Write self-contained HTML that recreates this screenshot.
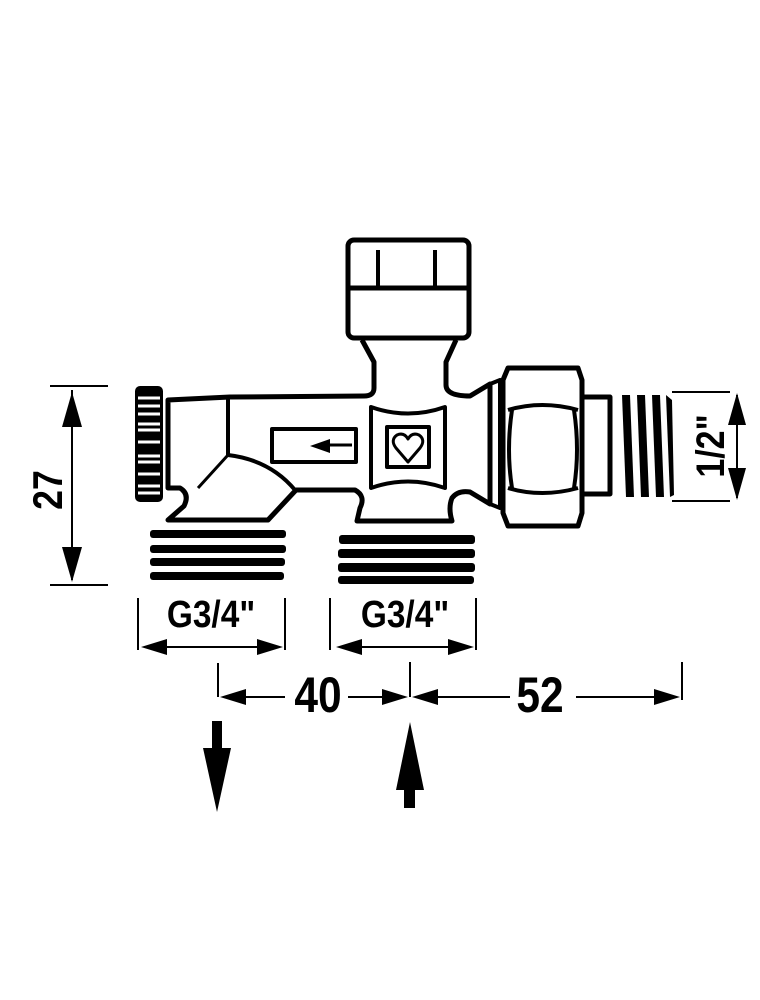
<!DOCTYPE html>
<html><head><meta charset="utf-8"><style>
html,body{margin:0;padding:0;background:#fff;width:760px;height:1000px;overflow:hidden}
svg{display:block}
text{font-family:"Liberation Sans",Arial,sans-serif;font-weight:bold;fill:#000}
</style></head><body>
<svg width="760" height="1000" viewBox="0 0 760 1000" xmlns="http://www.w3.org/2000/svg">
<g fill="none" stroke="#000" stroke-width="5" stroke-linejoin="round">
<rect x="348" y="240" width="121" height="98" rx="6"/>
<line x1="349" y1="288" x2="468" y2="288"/>
<line x1="378" y1="250" x2="378" y2="287" stroke-width="4"/>
<line x1="435" y1="250" x2="435" y2="287" stroke-width="4"/>
<path d="M362,340 L374,362 L374,388 Q374,396 364,396 L230,397 L168,400 L168,488 L180,488 Q190,494 184,506 L168,520 L268,520 L296,490 L355,490 Q366,496 360,508 L357,521 L452,521 Q448,508 452,498 Q458,490 470,492 L490,504 L490,384 L470,396 Q446,396 446,385 L446,362 L456,340"/>
<line x1="228" y1="398" x2="228" y2="455" stroke-width="4"/>
<path d="M228,455 Q270,460 295,490" stroke-width="4"/>
<line x1="228" y1="455" x2="198" y2="488" stroke-width="3"/>
<path d="M371,407 Q408,420 445,407 L445,488 Q408,475 371,488 Z" stroke-width="4"/>
<rect x="387" y="427" width="42" height="40" stroke-width="4"/>
<path d="M408,462 L396,448 Q390,440 397,435 Q404,432 408,439 Q412,432 419,435 Q426,440 420,448 Z" stroke-width="3"/>
<rect x="272" y="429" width="84" height="33" stroke-width="4"/>
<line x1="325" y1="445" x2="352" y2="445" stroke-width="3"/>
<path d="M490,384 L500,380 L500,508 L490,504" stroke-width="4"/>
<path d="M508,368 L578,368 L582,380 L582,513 L578,526 L508,526 L503,513 L503,380 Z"/>
<path d="M508,410 Q542,400 578,410 M508,488 Q542,498 578,488" stroke-width="4"/>
<path d="M512,410 Q506,450 512,488 M574,410 Q580,450 574,488" stroke-width="4"/>
<rect x="582" y="397" width="28" height="97" stroke-width="5"/>
</g>
<polygon points="310,446 330,439 330,453" fill="#000"/>
<rect x="135" y="386" width="28" height="116" rx="5" fill="#000"/>
<g stroke="#fff" stroke-width="3">
<line x1="138" y1="398" x2="160" y2="398"/><line x1="138" y1="406" x2="160" y2="406"/>
<line x1="138" y1="414" x2="160" y2="414"/><line x1="138" y1="424" x2="160" y2="424"/>
<line x1="138" y1="430" x2="160" y2="430"/><line x1="138" y1="442" x2="160" y2="442"/>
<line x1="138" y1="456" x2="160" y2="456"/><line x1="138" y1="462" x2="160" y2="462"/>
<line x1="138" y1="474" x2="160" y2="474"/><line x1="138" y1="486" x2="160" y2="486"/>
<line x1="138" y1="493" x2="160" y2="493"/>
</g>
<g fill="#000">
<rect x="150" y="530" width="136" height="8" rx="3"/><rect x="150" y="545" width="136" height="8" rx="3"/>
<rect x="150" y="558" width="135" height="8" rx="3"/><rect x="150" y="572" width="134" height="8" rx="3"/>
<rect x="339" y="535" width="136" height="9" rx="3"/><rect x="338" y="549" width="137" height="9" rx="3"/>
<rect x="338" y="563" width="137" height="9" rx="3"/><rect x="338" y="576" width="136" height="8" rx="3"/>
<polygon points="622,395 630,395 634,497 626,497"/><polygon points="637,395 645,395 649,497 641,497"/>
<polygon points="652,395 660,395 664,497 656,497"/><polygon points="666,395 672,400 674,495 670,497"/>
</g>
<g stroke="#000" stroke-width="2">
<line x1="672" y1="392" x2="730" y2="392"/><line x1="672" y1="501" x2="730" y2="501"/>
<line x1="737" y1="395" x2="737" y2="498"/>
</g>
<polygon points="737,393 728,425 746,425" fill="#000"/>
<polygon points="737,500 728,468 746,468" fill="#000"/>
<text font-size="40" text-anchor="middle" transform="translate(724,446) rotate(-90) scale(0.85,1)">1/2"</text>
<g stroke="#000" stroke-width="2">
<line x1="50" y1="386" x2="108" y2="386"/><line x1="50" y1="585" x2="108" y2="585"/>
<line x1="72" y1="390" x2="72" y2="580"/>
</g>
<polygon points="72,392 62,427 82,427" fill="#000"/>
<polygon points="72,582 62,547 82,547" fill="#000"/>
<text font-size="42" text-anchor="middle" transform="translate(62,490) rotate(-90) scale(0.85,1)">27</text>
<g stroke="#000" stroke-width="2">
<line x1="138" y1="598" x2="138" y2="650"/><line x1="285" y1="598" x2="285" y2="650"/>
<line x1="160" y1="647" x2="265" y2="647"/>
<line x1="330" y1="598" x2="330" y2="650"/><line x1="476" y1="598" x2="476" y2="650"/>
<line x1="350" y1="647" x2="455" y2="647"/>
<line x1="218" y1="663" x2="218" y2="697"/><line x1="410" y1="662" x2="410" y2="697"/>
<line x1="682" y1="662" x2="682" y2="700"/>
<line x1="240" y1="697" x2="285" y2="697"/><line x1="348" y1="697" x2="395" y2="697"/>
<line x1="430" y1="697" x2="510" y2="697"/><line x1="576" y1="697" x2="670" y2="697"/>
</g>
<g fill="#000">
<polygon points="141,647 167,639 167,655"/>
<polygon points="283,647 257,639 257,655"/>
<polygon points="336,647 362,639 362,655"/>
<polygon points="474,647 448,639 448,655"/>
<polygon points="220,697 246,689 246,705"/>
<polygon points="408,697 382,689 382,705"/>
<polygon points="412,697 438,689 438,705"/>
<polygon points="680,697 654,689 654,705"/>
<rect x="212" y="721" width="10" height="42"/>
<polygon points="203,748 231,748 217,812"/>
<rect x="404" y="770" width="11" height="38"/>
<polygon points="396,790 424,790 410,722"/>
</g>
<text font-size="38" text-anchor="middle" transform="translate(211,627) scale(0.88,1)">G3/4"</text>
<text font-size="38" text-anchor="middle" transform="translate(405,627) scale(0.88,1)">G3/4"</text>
<text font-size="50" text-anchor="middle" transform="translate(318,712) scale(0.85,1)">40</text>
<text font-size="50" text-anchor="middle" transform="translate(540,712) scale(0.85,1)">52</text>
</svg>
</body></html>
